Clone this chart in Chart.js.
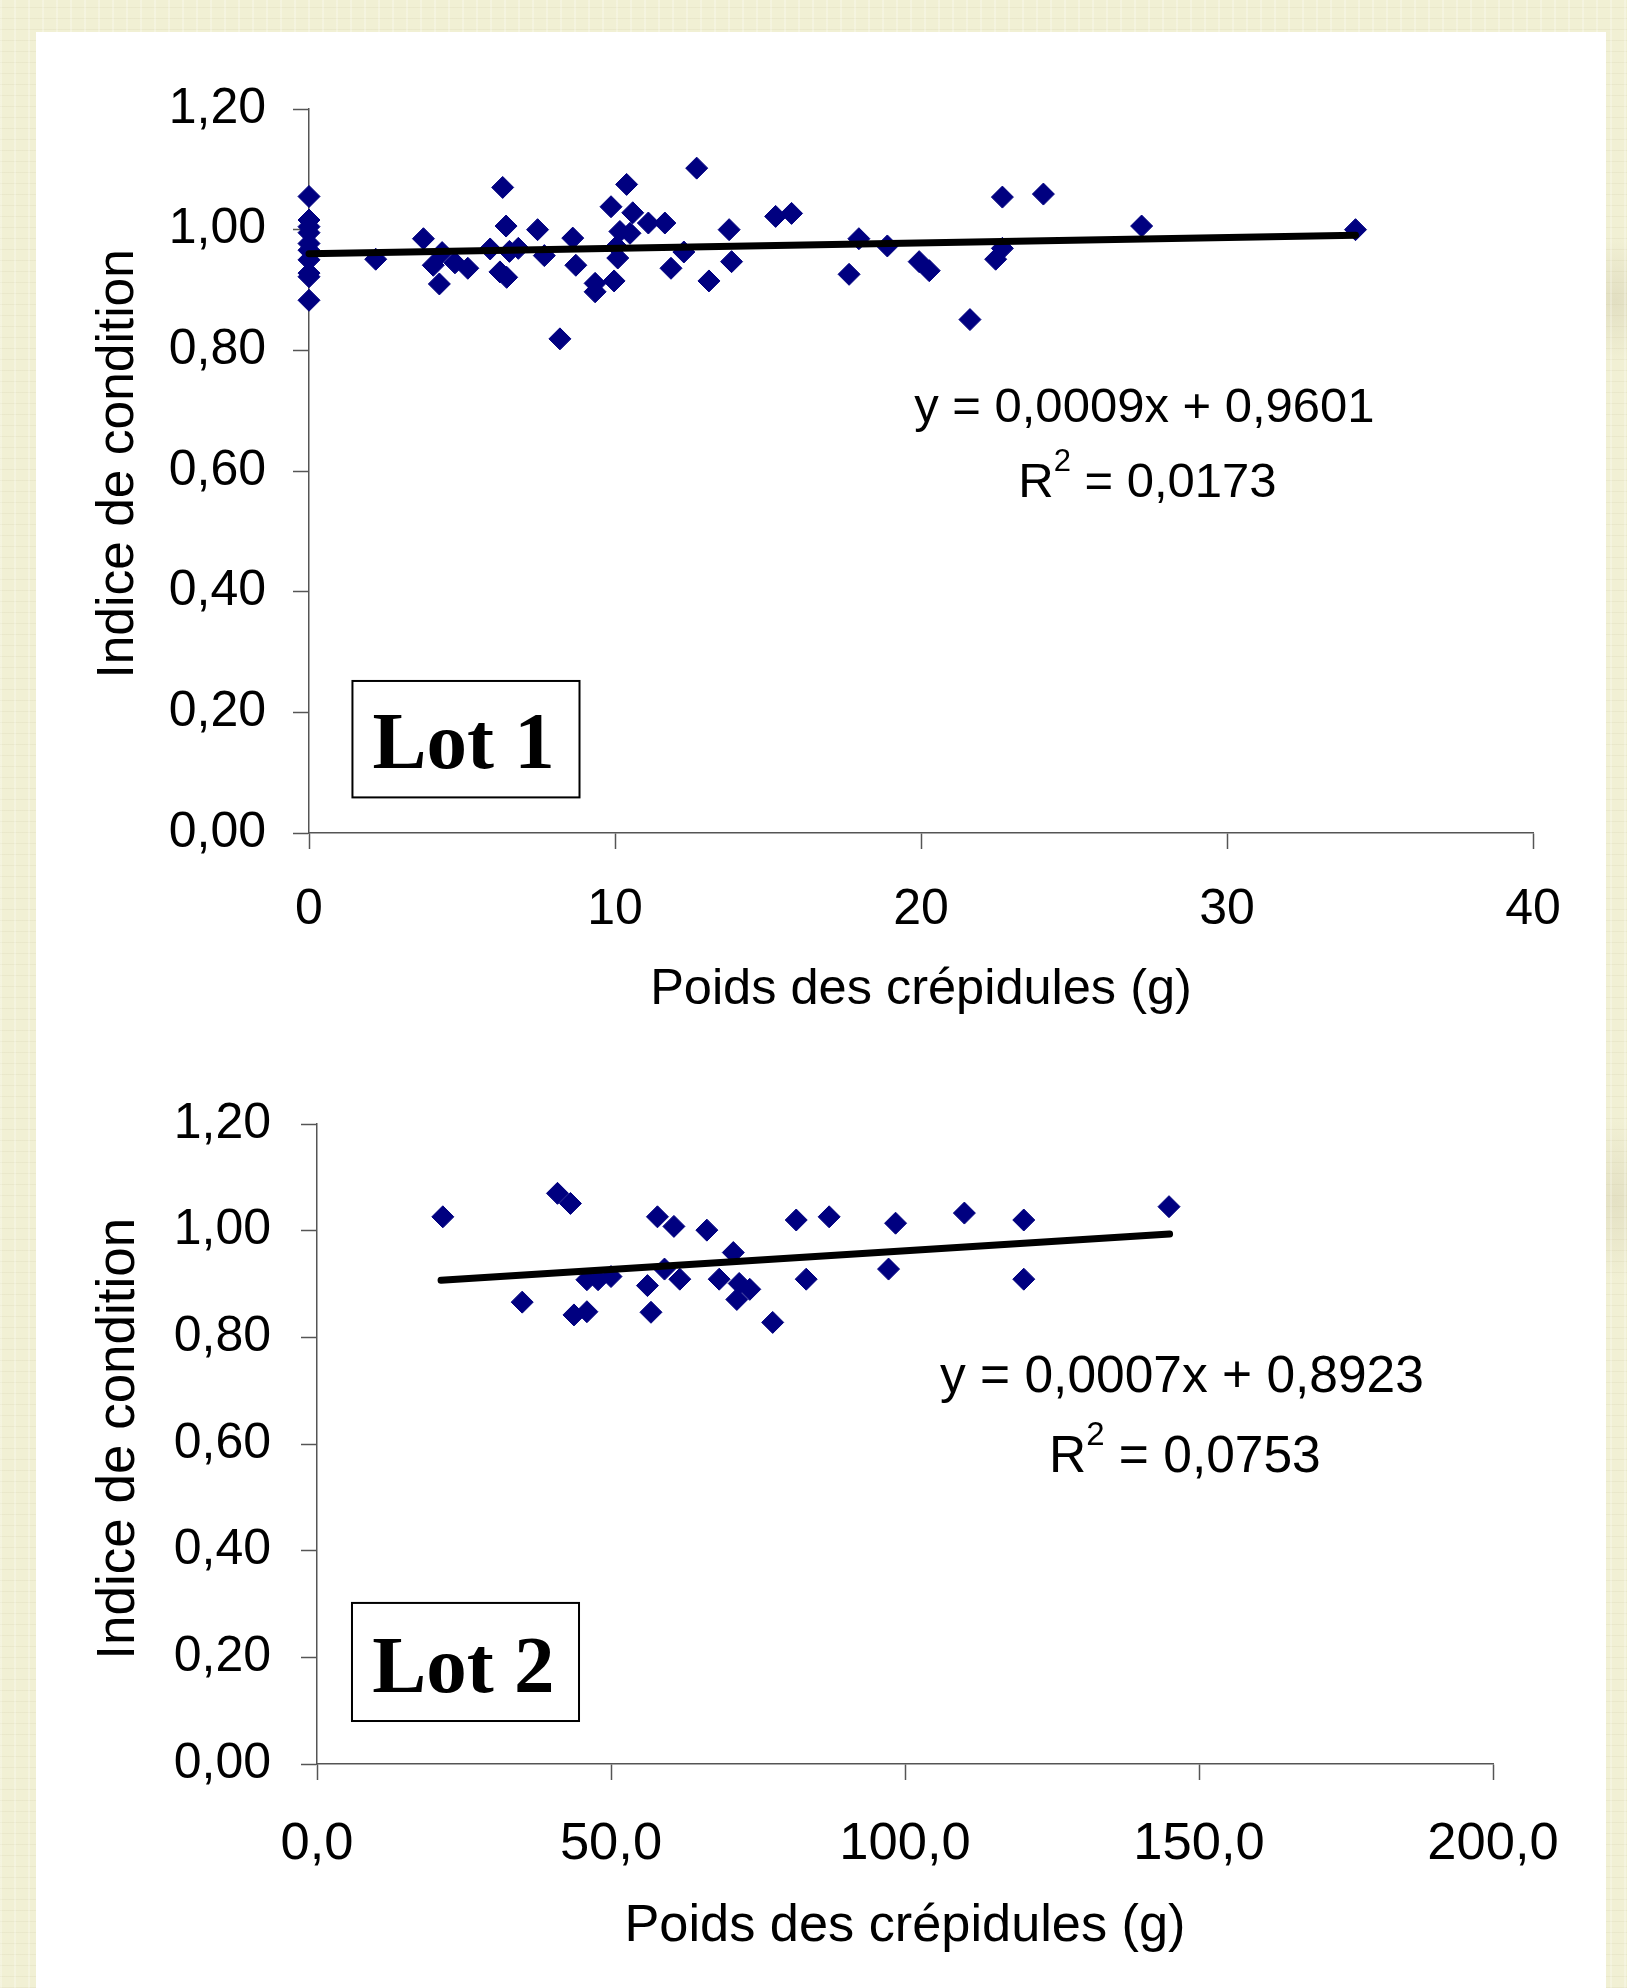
<!DOCTYPE html>
<html><head><meta charset="utf-8">
<script src="https://cdn.jsdelivr.net/npm/chart.js@4.4.1/dist/chart.umd.min.js"></script>
<style>
html,body{margin:0;padding:0;}
body{width:1627px;height:1988px;position:relative;overflow:hidden;
  background-color:#f1f0d4;
  background-image:
    repeating-linear-gradient(90deg, rgba(255,255,255,0.25) 0 2px, rgba(0,0,0,0) 2px 14px),
    repeating-linear-gradient(0deg, rgba(200,195,160,0.18) 0 1px, rgba(0,0,0,0) 1px 11px),
    radial-gradient(circle at 1615px 300px, #e2dfc2 0, rgba(0,0,0,0) 60px),
    radial-gradient(circle at 1615px 1200px, #e4e1c4 0, rgba(0,0,0,0) 80px);}
#panel{position:absolute;left:36px;top:32px;width:1570px;height:1956px;background:#fff;}
.wrap{position:absolute;left:36px;}
#w1{top:32px;width:1570px;height:1020px;}
#w2{top:1060px;width:1570px;height:928px;}
canvas{display:block;}
</style></head>
<body>
<div id="panel"></div>
<div class="wrap" id="w1"><canvas id="c1" width="1570" height="1020"></canvas></div>
<div class="wrap" id="w2"><canvas id="c2" width="1570" height="928"></canvas></div>
<script>
// ---- Data ----
const lot1X = [0,0,0,0,0,0,0,0,0,0, 2.18, 3.74, 4.06, 4.26, 4.35, 4.77, 5.19, 5.92, 6.24, 6.33, 6.44, 6.46, 6.55, 6.84, 7.47, 7.69, 8.20, 8.62, 8.72, 9.35, 9.35, 9.87, 9.97, 10.05, 10.09, 10.16, 10.38, 10.49, 10.58, 11.09, 11.63, 11.83, 12.25, 12.67, 13.07, 13.73, 13.81, 15.25, 15.77, 17.65, 17.97, 18.90, 19.94, 20.27, 21.60, 22.44, 22.66, 22.66, 24.00, 27.21, 34.20];
const lot1Y = [1.055,1.016,1.005,0.995,0.977,0.966,0.950,0.928,0.922,0.883, 0.951, 0.985, 0.941, 0.910, 0.962, 0.945, 0.936, 0.968, 0.930, 1.070, 1.006, 0.921, 0.964, 0.969, 1.000, 0.957, 0.819, 0.986, 0.941, 0.911, 0.897, 1.038, 0.915, 0.972, 0.953, 0.997, 1.075, 0.994, 1.028, 1.011, 1.011, 0.936, 0.963, 1.102, 0.915, 1.000, 0.947, 1.022, 1.027, 0.926, 0.985, 0.973, 0.947, 0.932, 0.851, 0.951, 1.054, 0.969, 1.059, 1.006, 1.000];
const lot1TrendX = [0, 34.2];
const lot1TrendY = [0.9601, 0.9909];

const lot2X = [21.4, 34.9, 40.9, 43.1, 43.7, 45.9, 45.9, 47.8, 50.0, 56.2, 56.8, 57.9, 59.1, 60.7, 61.7, 66.3, 68.4, 70.8, 71.4, 71.8, 73.6, 77.5, 81.5, 83.2, 87.1, 97.2, 98.4, 110.1, 120.2, 120.2, 144.9];
const lot2Y = [1.026, 0.866, 1.070, 1.051, 0.842, 0.848, 0.908, 0.908, 0.914, 0.897, 0.847, 1.026, 0.928, 1.008, 0.909, 1.001, 0.909, 0.959, 0.871, 0.901, 0.890, 0.828, 1.020, 0.909, 1.026, 0.928, 1.014, 1.033, 1.020, 0.909, 1.045];
const lot2TrendX = [21.1, 145.0];
const lot2TrendY = [0.9071, 0.9938];

const yTickValues = [0, 0.2, 0.4, 0.6, 0.8, 1.0, 1.2];
const yTickLabels = ['0,00', '0,20', '0,40', '0,60', '0,80', '1,00', '1,20'];
const lot1XTickValues = [0, 10, 20, 30, 40];
const lot1XTickLabels = ['0', '10', '20', '30', '40'];
const lot2XTickValues = [0, 50, 100, 150, 200];
const lot2XTickLabels = ['0,0', '50,0', '100,0', '150,0', '200,0'];

const xTitleText = 'Poids des crépidules (g)';
const yTitleText = 'Indice de condition';
const lot1Name = 'Lot 1';
const lot2Name = 'Lot 2';
const lot1Equation = 'y = 0,0009x + 0,9601';
const lot1R2 = '0,0173';
const lot2Equation = 'y = 0,0007x + 0,8923';
const lot2R2 = '0,0753';

// ---- Rendering ----
const SANS = '"Liberation Sans", Arial, sans-serif';
const SERIF = '"Liberation Serif", "Times New Roman", serif';
Chart.defaults.font.family = SANS;
Chart.defaults.color = '#000';

const annotPlugin = {
  id: 'annot',
  afterDatasetsDraw(chart, args, o) {
    const {ctx, scales: {x, y}} = chart;
    ctx.save();
    const bx1 = x.getPixelForValue(o.box[0]), bx2 = x.getPixelForValue(o.box[1]);
    const by1 = y.getPixelForValue(o.box[2]), by2 = y.getPixelForValue(o.box[3]);
    ctx.fillStyle = '#fff';
    ctx.fillRect(bx1, by1, bx2 - bx1, by2 - by1);
    ctx.strokeStyle = '#000';
    ctx.lineWidth = 2;
    ctx.strokeRect(bx1, by1, bx2 - bx1, by2 - by1);
    ctx.fillStyle = '#000';
    ctx.font = 'bold 81px ' + SERIF;
    ctx.textAlign = 'center';
    ctx.textBaseline = 'alphabetic';
    ctx.fillText(o.name, x.getPixelForValue(o.nameAt[0]), y.getPixelForValue(o.nameAt[1]));
    const fs = o.eqFont, ss = Math.round(o.eqFont * 0.64);
    ctx.font = fs + 'px ' + SANS;
    ctx.fillText(o.eq, x.getPixelForValue(o.eqAt[0]), y.getPixelForValue(o.eqAt[1]));
    const cx = x.getPixelForValue(o.r2At[0]);
    const by = y.getPixelForValue(o.r2At[1]);
    const main = ' = ' + o.r2;
    const wR = ctx.measureText('R').width;
    const wM = ctx.measureText(main).width;
    ctx.font = ss + 'px ' + SANS;
    const w2 = ctx.measureText('2').width;
    const total = wR + w2 + wM;
    const sx = cx - total / 2;
    ctx.textAlign = 'left';
    ctx.font = fs + 'px ' + SANS;
    ctx.fillText('R', sx, by);
    ctx.font = ss + 'px ' + SANS;
    ctx.fillText('2', sx + wR, by - fs * 0.53);
    ctx.font = fs + 'px ' + SANS;
    ctx.fillText(main, sx + wR + w2, by);
    ctx.restore();
  }
};

function makeChart(id, cfg) {
  const pts = cfg.xs.map((v, i) => ({x: v, y: cfg.ys[i]}));
  const trend = cfg.tx.map((v, i) => ({x: v, y: cfg.ty[i]}));
  const axisColor = '#555';
  return new Chart(document.getElementById(id), {
    type: 'scatter',
    data: {
      datasets: [
        {type: 'line', data: trend, borderColor: '#000', borderWidth: cfg.lineW, pointRadius: 0,
         borderCapStyle: 'round', fill: false, tension: 0, clip: false},
        {data: pts, pointStyle: 'rectRot', pointRadius: 11, pointHoverRadius: 11,
         backgroundColor: '#000080', borderColor: '#000080', borderWidth: 1, clip: false}
      ]
    },
    options: {
      responsive: false, animation: false, events: [],
      layout: {padding: {left: 0, top: cfg.padTop, right: cfg.padRight, bottom: 0}},
      plugins: {legend: {display: false}, tooltip: {enabled: false}, annot: cfg.annot},
      scales: {
        x: {
          type: 'linear', position: 'bottom', min: cfg.xt[0], max: cfg.xt[cfg.xt.length - 1],
          afterBuildTicks: s => { s.ticks = cfg.xt.map(v => ({value: v})); },
          afterFit: s => { s.height = cfg.xAxisH; },
          ticks: {callback: (v, i) => cfg.xl[i], font: {size: cfg.xTickFont}, color: '#000', padding: cfg.xTickPad,
                  maxRotation: 0, minRotation: 0, autoSkip: false},
          grid: {drawOnChartArea: false, drawTicks: true, tickLength: 16, tickColor: axisColor, tickWidth: 1.5},
          border: {display: true, color: axisColor, width: 1.5},
          title: {display: true, text: xTitleText, font: {size: cfg.xTitleFont}, color: '#000', padding: {top: 0, bottom: cfg.xTitlePad}}
        },
        y: {
          type: 'linear', position: 'left', min: 0, max: 1.2,
          afterBuildTicks: s => { s.ticks = yTickValues.map(v => ({value: v})); },
          afterFit: s => { s.width = cfg.yAxisW; },
          ticks: {callback: (v, i) => yTickLabels[i], font: {size: 50}, color: '#000', padding: cfg.yTickPad, autoSkip: false},
          grid: {drawOnChartArea: false, drawTicks: true, tickLength: 16, tickColor: axisColor, tickWidth: 1.5},
          border: {display: true, color: axisColor, width: 1.5},
          title: {display: true, text: cfg.yTitlePrefix + yTitleText, font: {size: cfg.yTitleFont}, color: '#000', padding: {top: 52, bottom: 0}}
        }
      }
    },
    plugins: [annotPlugin]
  });
}

makeChart('c1', {
  xs: lot1X, ys: lot1Y, tx: lot1TrendX, ty: lot1TrendY, lineW: 7,
  xt: lot1XTickValues, xl: lot1XTickLabels, xTickFont: 50, xTitleFont: 50.5, yTitleFont: 51.5, yTitlePrefix: ' ',
  padTop: 77, padRight: 73, xAxisH: 219, yAxisW: 273, xTickPad: 31, xTitlePad: 31.5, yTickPad: 27,
  annot: {name: lot1Name, box: [1.42, 8.84, 0.252, 0.059], nameAt: [5.05, 0.107],
          eqFont: 49, eq: lot1Equation, eqAt: [27.3, 0.682], r2: lot1R2, r2At: [27.4, 0.557]}
});

makeChart('c2', {
  xs: lot2X, ys: lot2Y, tx: lot2TrendX, ty: lot2TrendY, lineW: 7,
  xt: lot2XTickValues, xl: lot2XTickLabels, xTickFont: 52.5, xTitleFont: 52.3, yTitleFont: 53, yTitlePrefix: '\u2009',
  padTop: 64, padRight: 113, xAxisH: 224, yAxisW: 281, xTickPad: 33, xTitlePad: 30.5, yTickPad: 30,
  annot: {name: lot2Name, box: [5.95, 44.56, 0.302, 0.0806], nameAt: [24.9, 0.1356],
          eqFont: 51.5, eq: lot2Equation, eqAt: [147.1, 0.6975], r2: lot2R2, r2At: [147.6, 0.5475]}
});
</script>
</body></html>
